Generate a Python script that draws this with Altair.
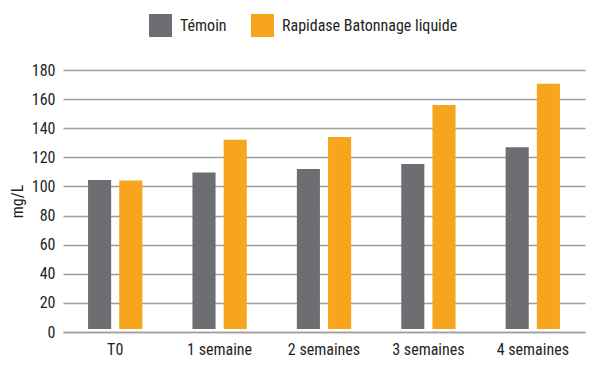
import altair as alt
import pandas as pd

categories = ["T0", "1 semaine", "2 semaines", "3 semaines", "4 semaines"]
series = ["Témoin", "Rapidase Batonnage liquide"]
temoin = [104.5, 109.5, 112, 115.5, 127]
rapidase = [104, 132, 134, 156, 170.5]
base = 2
y_ticks = [0, 20, 40, 60, 80, 100, 120, 140, 160, 180]
colors = ["#6d6e71", "#f6a51c"]

rows = []
for i, c in enumerate(categories):
    rows.append({"cat": c, "serie": series[0], "val": temoin[i], "base": base})
    rows.append({"cat": c, "serie": series[1], "val": rapidase[i], "base": base})
df = pd.DataFrame(rows)

FONT = "'Roboto Condensed', 'DejaVu Sans Condensed', 'Liberation Sans Narrow', 'Arial Narrow', sans-serif"
TXT = "#231f20"

chart = alt.Chart(df).mark_bar().encode(
    x=alt.X("cat:N", sort=categories,
            scale=alt.Scale(paddingInner=0.48, paddingOuter=0.24),
            axis=alt.Axis(title=None, labelAngle=0, ticks=False, domain=True,
                          domainColor="#a0a0a0", domainWidth=1.5,
                          labelFont=FONT, labelFontSize=16, labelColor=TXT,
                          labelPadding=9)),
    xOffset=alt.XOffset("serie:N", sort=series,
                        scale=alt.Scale(paddingInner=0.26, paddingOuter=0)),
    y=alt.Y("val:Q", scale=alt.Scale(domain=[0, 180], nice=False),
            axis=alt.Axis(title="mg/L", values=y_ticks, ticks=False, domain=False,
                          grid=True, gridColor="#9c9c9c", gridWidth=1.5,
                          labelFont=FONT, labelFontSize=16, labelColor=TXT,
                          labelPadding=8, titleFont=FONT, titleFontSize=16,
                          titleFontWeight="normal", titleColor=TXT, titlePadding=6)),
    y2=alt.Y2("base:Q"),
    color=alt.Color("serie:N", sort=series,
                    scale=alt.Scale(domain=series, range=colors),
                    legend=alt.Legend(title=None, orient="none", direction="horizontal",
                                      legendX=86, legendY=-56, symbolType="square",
                                      symbolSize=529, symbolStrokeWidth=0,
                                      labelFont=FONT, labelFontSize=16, labelColor=TXT,
                                      labelOffset=8, columnPadding=24, padding=0,
                                      labelLimit=0)),
).properties(
    width=522, height=262,
    autosize=alt.AutoSizeParams(type="none"),
    padding={"left": 55, "top": 62, "right": 8, "bottom": 26},
).configure_view(stroke=None)

chart.save("out.html", embed_options={"renderer": "svg", "actions": False})
